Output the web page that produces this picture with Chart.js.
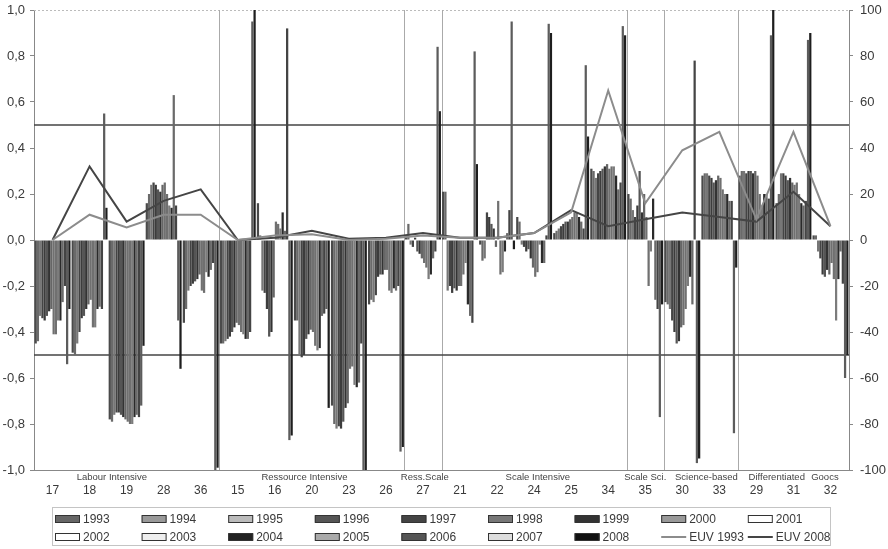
<!DOCTYPE html>
<html>
<head>
<meta charset="utf-8">
<script src="https://cdn.jsdelivr.net/npm/chart.js@4.4.1/dist/chart.umd.min.js"></script>
<style>
    html, body { margin: 0; padding: 0; background: #fff; }
    #wrap { width: 888px; height: 549px; }
</style>
</head>
<body>
<div id="wrap"><canvas id="chart" width="888" height="549"></canvas></div>
<script>
// Categories (industry codes) in display order
const categories = ['17', '18', '19', '28', '36', '15', '16', '20', '23', '26', '27',
                    '21', '22', '24', '25', '34', '35', '30', '33', '29', '31', '32'];
const years = ['1993', '1994', '1995', '1996', '1997', '1998', '1999', '2000',
               '2001', '2002', '2003', '2004', '2005', '2006', '2007', '2008'];

// Values per category, 1993..2008 (left axis)
const v17 = [-0.45, -0.44, -0.33, -0.34, -0.35, -0.33, -0.31, -0.30, -0.41, -0.41, -0.35, -0.35, -0.27, -0.20, -0.54, -0.30];
const v18 = [-0.49, -0.50, -0.45, -0.40, -0.34, -0.33, -0.30, -0.28, -0.26, -0.38, -0.38, -0.30, -0.29, -0.30, 0.55, 0.14];
const v19 = [-0.78, -0.79, -0.76, -0.75, -0.75, -0.76, -0.77, -0.78, -0.79, -0.80, -0.80, -0.77, -0.76, -0.77, -0.72, -0.46];
const v28 = [0.16, 0.20, 0.24, 0.25, 0.24, 0.22, 0.21, 0.24, 0.25, 0.20, 0.15, 0.14, 0.63, 0.15, -0.35, -0.56];
const v36 = [-0.36, -0.30, -0.22, -0.20, -0.19, -0.18, -0.17, -0.15, -0.22, -0.23, -0.14, -0.16, -0.13, -0.10, -1.00, -0.99];
const v15 = [-0.45, -0.45, -0.44, -0.43, -0.42, -0.40, -0.38, -0.36, -0.37, -0.40, -0.41, -0.43, -0.43, -0.40, 0.95, 1.00];
const v16 = [0.16, 0.02, -0.22, -0.23, -0.30, -0.42, -0.40, -0.25, 0.08, 0.07, 0.05, 0.12, 0.04, 0.92, -0.87, -0.85];
const v20 = [-0.35, -0.35, -0.50, -0.51, -0.50, -0.43, -0.41, -0.39, -0.40, -0.46, -0.48, -0.47, -0.33, -0.32, -0.30, -0.73];
const v23 = [-0.72, -0.80, -0.82, -0.81, -0.82, -0.79, -0.73, -0.71, -0.56, -0.55, -0.63, -0.64, -0.62, -0.45, -1.00, -1.00];
const v26 = [-0.28, -0.26, -0.27, -0.24, -0.16, -0.15, -0.15, -0.13, -0.13, -0.22, -0.23, -0.21, -0.22, -0.20, -0.92, -0.90];
const v27 = [0.02, 0.07, -0.02, -0.03, 0.01, -0.05, -0.06, -0.08, -0.10, -0.12, -0.17, -0.15, -0.08, -0.05, 0.84, 0.56];
const v21 = [0.21, 0.21, -0.22, -0.20, -0.23, -0.21, -0.22, -0.20, -0.20, -0.15, -0.10, -0.28, -0.33, -0.36, 0.82, 0.33];
const v22 = [-0.02, -0.09, -0.08, 0.12, 0.10, 0.07, 0.05, -0.03, 0.17, -0.15, -0.14, -0.05, 0.03, 0.13, 0.95, -0.04];
const v24 = [0.10, 0.08, -0.02, -0.03, -0.05, -0.04, -0.08, -0.12, -0.16, -0.14, -0.02, -0.10, -0.10, 0.02, 0.94, 0.90];
const v25 = [0.03, 0.04, 0.05, 0.06, 0.07, 0.08, 0.08, 0.09, 0.10, 0.12, 0.12, 0.10, 0.08, 0.05, 0.76, 0.45];
const v34 = [0.31, 0.30, 0.27, 0.29, 0.30, 0.31, 0.32, 0.33, 0.31, 0.32, 0.32, 0.28, 0.22, 0.25, 0.93, 0.89];
const v35 = [0.20, 0.18, 0.13, 0.10, 0.15, 0.30, 0.12, 0.20, 0.10, -0.20, -0.05, 0.18, -0.26, -0.30, -0.77, -0.28];
const v30 = [-0.27, -0.28, -0.30, -0.35, -0.40, -0.45, -0.44, -0.38, -0.37, -0.30, -0.20, -0.16, -0.28, 0.78, -0.97, -0.95];
const v33 = [0.28, 0.29, 0.29, 0.28, 0.27, 0.25, 0.26, 0.28, 0.27, 0.22, 0.20, 0.20, 0.17, 0.17, -0.84, -0.12];
const v29 = [0.28, 0.30, 0.30, 0.29, 0.30, 0.30, 0.29, 0.30, 0.28, 0.20, 0.15, 0.20, 0.20, 0.18, 0.89, 1.00];
const v31 = [0.16, 0.20, 0.29, 0.29, 0.28, 0.26, 0.27, 0.25, 0.24, 0.25, 0.20, 0.16, 0.15, 0.17, 0.87, 0.90];
const v32 = [0.02, 0.02, -0.05, -0.08, -0.15, -0.16, -0.13, -0.15, -0.10, -0.17, -0.35, -0.17, -0.05, -0.19, -0.60, -0.50];

const byCategory = [v17, v18, v19, v28, v36, v15, v16, v20, v23, v26, v27,
                    v21, v22, v24, v25, v34, v35, v30, v33, v29, v31, v32];

// EUV lines (right axis)
const euv1993 = [0, 11, 5.5, 11, 11, 0, 2, 2.5, 0, 0.5, 2, 1, 1, 3, 12, 65, 16, 39, 47, 9, 47, 6];
const euv2008 = [0, 32, 8, 17, 22, 0, 1, 4, 0.5, 1, 3, 1, 1, 3, 13, 6, 9, 12, 10, 8, 21, 6];

// Group names under the axis, and where group boundaries fall (after category index)
const groupLabels = [
    { text: 'Labour Intensive', at: 1.6 },
    { text: 'Ressource Intensive', at: 6.8 },
    { text: 'Ress.Scale', at: 10.05 },
    { text: 'Scale Intensive', at: 13.1 },
    { text: 'Scale Sci.', at: 16.0 },
    { text: 'Science-based', at: 17.65 },
    { text: 'Differentiated', at: 19.55 },
    { text: 'Goocs', at: 20.85 }
];
const groupBreaks = [4, 9, 10, 15, 16, 18];

// Colours (bars are thin, so they read darker than the legend swatches)
const barColors = ['#4a4a4a', '#6a6a6a', '#777', '#444', '#3c3c3c', '#555', '#333', '#666',
                   '#707070', '#707070', '#7c7c7c', '#2a2a2a', '#6a6a6a', '#444', '#5c5c5c', '#1e1e1e'];
const legendColors = ['#666', '#999', '#bbb', '#555', '#444', '#777', '#333', '#999',
                      '#fff', '#fff', '#eee', '#222', '#aaa', '#555', '#ddd', '#111'];
const euvColors = ['#8c8c8c', '#454545'];

const textColor = '#3a3a3a';
const fontFamily = '"Liberation Sans", Arial, sans-serif';

// Build datasets
const datasets = [];
datasets.push({
    type: 'line', label: 'EUV 1993', data: euv1993, yAxisID: 'y2',
    borderColor: euvColors[0], borderWidth: 2, pointRadius: 0, tension: 0, fill: false, order: 0
});
datasets.push({
    type: 'line', label: 'EUV 2008', data: euv2008, yAxisID: 'y2',
    borderColor: euvColors[1], borderWidth: 2, pointRadius: 0, tension: 0, fill: false, order: 0
});
years.forEach((yr, i) => {
    datasets.push({
        type: 'bar', label: yr, data: byCategory.map(row => row[i]), yAxisID: 'y',
        backgroundColor: barColors[i], borderWidth: 0,
        categoryPercentage: 0.97, barPercentage: 1.0, order: 1
    });
});

// Extra drawing: reference lines, group separators, group names, legend
const decorPlugin = {
    id: 'decor',
    beforeDatasetsDraw(chart) {
        const { ctx, chartArea: a, scales } = chart;
        const x = scales.x, y = scales.y;
        ctx.save();
        // dotted top border
        ctx.strokeStyle = '#bbb';
        ctx.lineWidth = 1;
        ctx.setLineDash([2, 2]);
        ctx.beginPath();
        ctx.moveTo(a.left, a.top + 0.5);
        ctx.lineTo(a.right, a.top + 0.5);
        ctx.stroke();
        ctx.setLineDash([]);
        // group separators
        ctx.strokeStyle = '#aaa';
        groupBreaks.forEach(i => {
            const px = Math.round((x.getPixelForValue(i) + x.getPixelForValue(i + 1)) / 2) + 0.5;
            ctx.beginPath();
            ctx.moveTo(px, a.top);
            ctx.lineTo(px, a.bottom);
            ctx.stroke();
        });
        // +/-0.5 lines
        ctx.strokeStyle = '#444';
        ctx.lineWidth = 1.4;
        [0.5, -0.5].forEach(v => {
            const py = y.getPixelForValue(v);
            ctx.beginPath();
            ctx.moveTo(a.left, py);
            ctx.lineTo(a.right, py);
            ctx.stroke();
        });
        ctx.restore();
    },
    afterDraw(chart) {
        const { ctx, chartArea: a, scales } = chart;
        const x = scales.x;
        ctx.save();
        // group names
        ctx.font = '9.5px ' + fontFamily;
        ctx.fillStyle = '#444';
        ctx.textAlign = 'center';
        ctx.textBaseline = 'middle';
        groupLabels.forEach(g => {
            const i0 = Math.floor(g.at), f = g.at - i0;
            const px = x.getPixelForValue(i0) + f * (x.getPixelForValue(i0 + 1) - x.getPixelForValue(i0));
            ctx.fillText(g.text, px, a.bottom + 7);
        });
        // legend box
        ctx.strokeStyle = '#c4c4c4';
        ctx.lineWidth = 1;
        ctx.strokeRect(52.5, 507.5, 778, 38);
        const items = years.map((yr, i) => ({ label: yr, color: legendColors[i], line: false }))
            .concat([{ label: 'EUV 1993', color: euvColors[0], line: true },
                     { label: 'EUV 2008', color: euvColors[1], line: true }]);
        ctx.font = '12px ' + fontFamily;
        ctx.textAlign = 'left';
        items.forEach((it, k) => {
            const col = k % 9, row = Math.floor(k / 9);
            const lx = 55 + col * 86.6;
            const ly = row === 0 ? 519 : 537;
            if (it.line) {
                ctx.strokeStyle = it.color;
                ctx.lineWidth = 2;
                ctx.beginPath();
                ctx.moveTo(lx, ly);
                ctx.lineTo(lx + 25, ly);
                ctx.stroke();
            } else {
                ctx.fillStyle = it.color;
                ctx.fillRect(lx, ly - 3.5, 25, 7);
                ctx.strokeStyle = '#333';
                ctx.lineWidth = 1;
                ctx.strokeRect(lx + 0.5, ly - 3.5, 24, 7);
            }
            ctx.fillStyle = textColor;
            ctx.fillText(it.label, lx + 28, ly + 0.5);
        });
        ctx.restore();
    }
};

// keep the plot area pinned: drop the extra padding the vertical axes ask for
function fixVertical(width) {
    return s => { s.width = width; s.paddingTop = 0; s.paddingBottom = 0; };
}

new Chart(document.getElementById('chart').getContext('2d'), {
    data: { labels: categories, datasets: datasets },
    options: {
        responsive: false,
        devicePixelRatio: 1,
        animation: false,
        layout: { padding: { top: 10, bottom: 0, left: 0, right: 0 } },
        plugins: { legend: { display: false }, tooltip: { enabled: false } },
        scales: {
            x: {
                grid: { display: false, drawTicks: false },
                border: { color: '#888' },
                ticks: { color: textColor, font: { size: 12, family: fontFamily }, padding: 13, maxRotation: 0, autoSkip: false },
                afterFit: s => { s.height = 79; }
            },
            y: {
                position: 'left', min: -1, max: 1,
                grid: { drawOnChartArea: false, tickLength: 4, color: '#888' },
                border: { color: '#888' },
                ticks: {
                    stepSize: 0.2, color: textColor, padding: 5,
                    font: { size: 13, family: fontFamily },
                    callback: v => Math.abs(v) < 1e-9 ? '0,0' : v.toFixed(1).replace('.', ',')
                },
                afterFit: fixVertical(34)
            },
            y2: {
                position: 'right', min: -100, max: 100,
                grid: { drawOnChartArea: false, tickLength: 4, color: '#888' },
                border: { color: '#888' },
                ticks: { stepSize: 20, color: textColor, padding: 7, font: { size: 13, family: fontFamily } },
                afterFit: fixVertical(39)
            }
        }
    },
    plugins: [decorPlugin]
});
</script>
</body>
</html>
